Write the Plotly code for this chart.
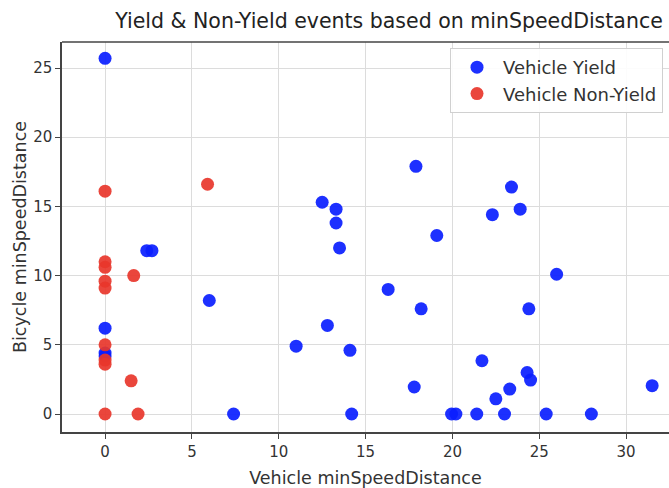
import plotly.graph_objects as go

# Vehicle yielded to the bicycle
yield_vehicle = [0.0, 0.0, 0.0, 0.0, 2.4, 2.7, 6.0, 7.4, 11.0, 12.5, 12.8, 13.3, 13.3,
                 13.5, 14.1, 14.2, 16.3, 17.8, 17.9, 18.2, 19.1, 19.95, 20.2, 21.4,
                 21.7, 22.3, 22.5, 23.0, 23.3, 23.4, 23.9, 24.3, 24.4, 24.5, 25.4,
                 26.0, 28.0, 31.5]
yield_bicycle = [25.7, 6.2, 4.4, 4.2, 11.8, 11.8, 8.2, 0.0, 4.9, 15.3, 6.4, 14.8, 13.8,
                 12.0, 4.6, 0.0, 9.0, 1.95, 17.9, 7.6, 12.9, 0.0, 0.0, 0.0,
                 3.85, 14.4, 1.1, 0.0, 1.8, 16.4, 14.8, 3.0, 7.6, 2.45, 0.0,
                 10.1, 0.0, 2.05]

# Vehicle did not yield
nonyield_vehicle = [0.0, 5.9, 0.0, 0.0, 0.0, 0.0, 1.65, 0.0, 0.0, 0.0, 1.5, 0.0, 1.9]
nonyield_bicycle = [16.1, 16.6, 11.0, 10.6, 9.6, 9.1, 10.0, 5.0, 3.9, 3.6, 2.4, 0.0, 0.0]

x_ticks = [0, 5, 10, 15, 20, 25, 30]
y_ticks = [0, 5, 10, 15, 20, 25]

FONT = "DejaVu Sans"
TXT = "#333333"
SPINE = "#444444"

fig = go.Figure()
fig.add_trace(go.Scatter(
    x=yield_vehicle, y=yield_bicycle, mode="markers", name="Vehicle Yield",
    legendgroup="y",
    marker=dict(color="#0a1eff", size=13, opacity=0.92, line=dict(width=0)),
))
fig.add_trace(go.Scatter(
    x=nonyield_vehicle, y=nonyield_bicycle, mode="markers", name="Vehicle Non-Yield",
    legendgroup="n",
    marker=dict(color="#e8362b", size=13, opacity=0.92, line=dict(width=0)),
))

axis_common = dict(
    showgrid=True, gridcolor="#dcdcdc", gridwidth=1, zeroline=False,
    showline=True, linecolor=SPINE, linewidth=1.5,
    ticks="outside", ticklen=5, tickwidth=1.2, tickcolor=SPINE,
    tickfont=dict(family=FONT, size=15, color=TXT),
)

fig.update_layout(
    width=669, height=488,
    margin=dict(l=62, r=0, t=42, b=56),
    paper_bgcolor="white", plot_bgcolor="white",
    font=dict(family=FONT, color=TXT),
    title=dict(
        text="Yield & Non-Yield events based on minSpeedDistance",
        font=dict(family=FONT, size=20.5, color="#222222"),
        xref="container", x=389 / 669, xanchor="center",
        yref="container", y=1 - 21 / 488, yanchor="middle",
    ),
    xaxis=dict(
        range=[-2.48, 32.47], tickvals=x_ticks,
        title=dict(text="Vehicle minSpeedDistance", standoff=12,
                   font=dict(family=FONT, size=17.5, color=TXT)),
        **axis_common,
    ),
    yaxis=dict(
        range=[-1.3, 26.88], tickvals=y_ticks,
        title=dict(text="Bicycle minSpeedDistance", standoff=2,
                   font=dict(family=FONT, size=17.5, color=TXT)),
        **axis_common,
    ),
    legend=dict(
        x=(450 - 62) / 607, y=(432 - 48) / 390, xanchor="left", yanchor="top",
        bgcolor="rgba(255,255,255,0.9)", bordercolor="#d0d0d0", borderwidth=1,
        font=dict(family=FONT, size=18, color=TXT),
        itemwidth=42, tracegroupgap=0,
    ),
    shapes=[dict(type="line", xref="paper", yref="paper", x0=0, x1=1, y0=1, y1=1,
                 line=dict(color=SPINE, width=1.5))],
)

fig.write_html("out.html")
